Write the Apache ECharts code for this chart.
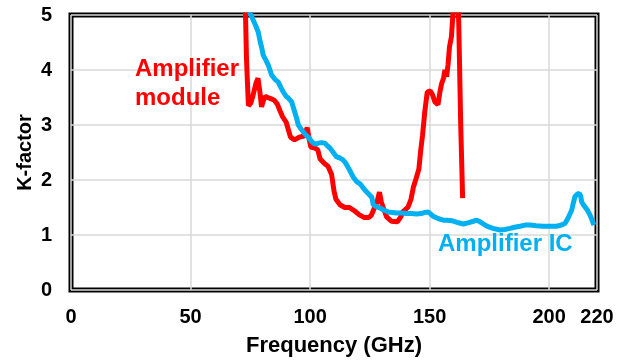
<!DOCTYPE html>
<html>
<head>
<meta charset="utf-8">
<script src="https://cdn.jsdelivr.net/npm/echarts@6/dist/echarts.min.js"></script>
<style>
html,body{margin:0;padding:0;background:#fff;}
#chart{width:624px;height:362px;}
</style>
</head>
<body>
<div id="chart"></div>
<script>
// Amplifier module (red)
var moduleFreq = [72.5,73.4,74.2,75.2,76.2,77.3,78.2,79.0,79.7,80.5,81.2,82.3,83.5,85.0,86.3,87.5,88.5,90.0,91.0,91.8,93.5,95.5,97.5,98.8,99.6,100.3,102.0,103.2,104.2,106.0,107.5,109.0,110.0,110.8,112.5,114.5,116.5,118.5,120.5,122.5,124.5,125.5,127.0,128.0,129.0,129.8,130.6,132.0,134.0,136.5,137.8,138.8,141.0,142.2,143.2,144.5,145.5,146.3,147.0,148.0,149.0,150.3,151.2,152.2,153.5,154.3,155.0,155.8,156.4,157.1,157.7,158.3,159.1,159.9,160.8,161.8,162.2,163.0,163.8];
var moduleK = [6.0,4.2,3.35,3.4,3.55,3.75,3.85,3.6,3.33,3.45,3.52,3.5,3.48,3.45,3.38,3.25,3.15,3.05,2.9,2.78,2.73,2.78,2.8,2.95,2.75,2.6,2.58,2.55,2.38,2.3,2.25,2.1,1.8,1.65,1.55,1.5,1.5,1.44,1.37,1.32,1.32,1.35,1.5,1.6,1.78,1.6,1.5,1.33,1.25,1.24,1.32,1.42,1.51,1.65,1.87,2.05,2.2,2.55,2.8,3.25,3.6,3.62,3.55,3.42,3.37,3.6,3.75,3.85,4.0,3.88,4.1,4.42,4.6,5.1,5.6,5.4,4.8,3.0,1.67];
// Amplifier IC (blue)
var icFreq = [74.0,75.0,76.2,77.3,78.3,79.2,79.8,80.4,81.5,82.5,83.9,85.3,86.7,87.8,88.8,90.0,90.9,92.3,93.0,93.7,94.5,95.1,96.2,97.2,98.2,99.2,100.3,101.3,102.5,103.4,104.8,106.2,107.3,108.3,109.7,111.1,112.5,113.9,115.0,116.0,117.0,118.1,119.5,120.9,122.3,123.7,124.8,125.8,126.4,127.5,129.2,131.0,132.7,134.5,136.2,138.3,140.4,142.5,144.6,146.5,148.0,149.4,150.5,151.5,153.5,155.7,157.5,159.2,161.5,164.1,166.0,168.3,169.7,171.1,172.5,173.9,176.5,179.4,181.5,183.6,185.5,187.8,190.0,192.0,194.5,197.5,200.5,203.1,205.0,206.6,207.8,209.4,210.2,210.8,211.7,212.6,213.2,213.6,214.3,215.0,216.0,217.1,218.0,218.7];
var icK = [5.3,5.02,4.91,4.8,4.69,4.5,4.4,4.27,4.18,4.09,3.91,3.83,3.78,3.68,3.6,3.52,3.49,3.42,3.32,3.22,3.1,3.0,2.93,2.87,2.82,2.78,2.72,2.67,2.65,2.67,2.68,2.67,2.62,2.58,2.5,2.42,2.4,2.36,2.3,2.22,2.14,2.05,1.97,1.93,1.85,1.78,1.73,1.69,1.55,1.52,1.49,1.45,1.42,1.41,1.4,1.4,1.39,1.39,1.38,1.39,1.41,1.42,1.38,1.34,1.3,1.27,1.27,1.26,1.23,1.2,1.22,1.25,1.27,1.24,1.2,1.16,1.12,1.09,1.1,1.12,1.14,1.16,1.18,1.18,1.17,1.16,1.16,1.16,1.18,1.21,1.3,1.45,1.6,1.7,1.74,1.76,1.7,1.6,1.55,1.52,1.45,1.36,1.26,1.18];
var xTickLabels = [0,50,100,150,200,220];
var seriesNames = ['Amplifier module','Amplifier IC'];

function pairs(xs, ys){ return xs.map(function(x,i){ return [x, ys[i]]; }); }

var FONT = "'Liberation Sans', Arial, sans-serif";
var chart = echarts.init(document.getElementById('chart'), null, {renderer:'canvas'});
chart.setOption({
  animation:false,
  backgroundColor:'#ffffff',
  grid:{left:71, right:27, top:15, bottom:72, show:true, borderColor:'#000', borderWidth:5, backgroundColor:'transparent'},
  xAxis:{
    type:'value', min:0, max:220, interval:50,
    name:'Frequency (GHz)', nameLocation:'middle', nameGap:45, nameMoveOverlap:false,
    nameTextStyle:{fontFamily:FONT, fontWeight:'bold', fontSize:22, color:'#000'},
    axisLine:{show:false}, axisTick:{show:false},
    axisLabel:{customValues:xTickLabels, fontFamily:FONT, fontWeight:'bold', fontSize:20, color:'#000', margin:17},
    splitLine:{show:true, lineStyle:{color:'#d9d9d9', width:1.5}}
  },
  yAxis:{
    type:'value', min:0, max:5, interval:1,
    name:'K-factor', nameLocation:'middle', nameGap:36, nameMoveOverlap:false,
    nameTextStyle:{fontFamily:FONT, fontWeight:'bold', fontSize:20, color:'#000'},
    axisLine:{show:false}, axisTick:{show:false},
    axisLabel:{fontFamily:FONT, fontWeight:'bold', fontSize:20, color:'#000', margin:19},
    splitLine:{show:true, lineStyle:{color:'#d9d9d9', width:1.5}}
  },
  series:[
    {name:seriesNames[0], type:'line', data:pairs(moduleFreq, moduleK), showSymbol:false, symbol:'none', smooth:false, clip:true,
     lineStyle:{color:'#ff0000', width:5}, z:3},
    {name:seriesNames[1], type:'line', data:pairs(icFreq, icK), showSymbol:false, symbol:'none', smooth:false, clip:true,
     lineStyle:{color:'#00b0f0', width:5}, z:4}
  ],
  graphic:[
    {type:'text', left:135, top:55, z:10, style:{text:'Amplifier\nmodule', fill:'#ff0000', font:"bold 24px "+FONT, lineHeight:29}},
    {type:'text', left:438, top:232, z:10, style:{text:'Amplifier IC', fill:'#00b0f0', font:"bold 24px "+FONT}}
  ]
});
</script>
</body>
</html>
